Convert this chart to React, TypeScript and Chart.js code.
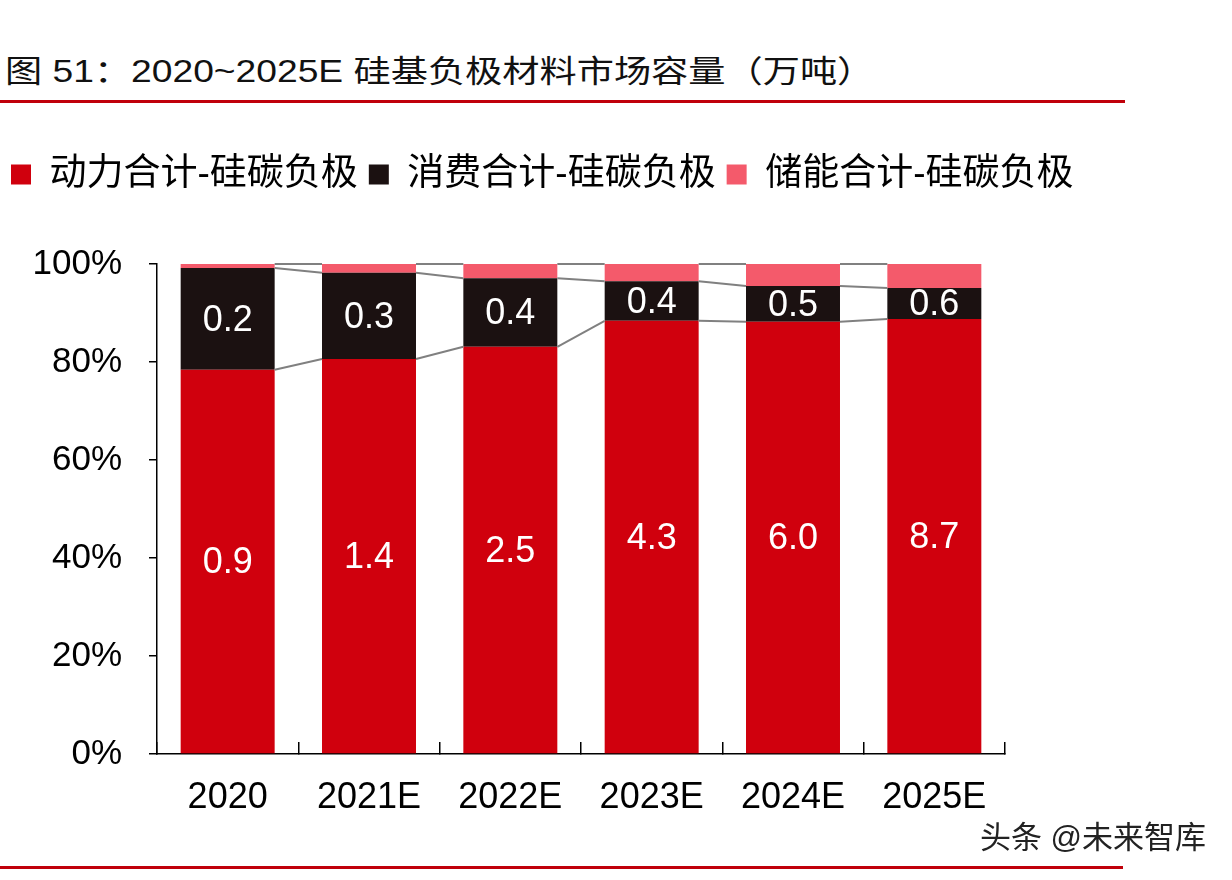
import React, { useEffect, useRef } from 'react';
import { Chart, registerables } from 'chart.js';

Chart.register(...registerables);

const categories = ['2020', '2021E', '2022E', '2023E', '2024E', '2025E'];
// shares of each bar (percent)
const powerShare = [78.4, 80.6, 83.1, 88.4, 88.2, 88.8];
const consumerShare = [20.8, 17.6, 14.0, 8.1, 7.3, 6.3];
const storageShare = [0.8, 1.8, 2.9, 3.5, 4.5, 4.9];
// value labels (万吨)
const powerLabels = ['0.9', '1.4', '2.5', '4.3', '6.0', '8.7'];
const consumerLabels = ['0.2', '0.3', '0.4', '0.4', '0.5', '0.6'];
const yTicks = [0, 20, 40, 60, 80, 100];

const seriesNames = ['动力合计-硅碳负极', '消费合计-硅碳负极', '储能合计-硅碳负极'];
const RED = '#D0000D';
const DARK = '#1B1111';
const PINK = '#F45A6B';
const FONT = '"Liberation Sans", "Noto Sans CJK SC", sans-serif';

export default function App() {
  const ref = useRef<HTMLCanvasElement>(null);

  useEffect(() => {
    document.body.style.margin = '0';
    const canvas = ref.current;
    if (!canvas) return;

    const legendHeightPlugin = {
      id: 'legendHeight',
      beforeInit(chart: any) {
        const legend = chart.legend;
        if (!legend) return;
        const orig = legend.fit;
        legend.fit = function () {
          orig.call(this);
          this.height = 119;
        };
      },
    };

    const connectorPlugin = {
      id: 'connectors',
      afterDatasetsDraw(chart: any) {
        const ctx = chart.ctx;
        ctx.save();
        ctx.strokeStyle = '#808080';
        ctx.lineWidth = 2;
        for (let d = 0; d < chart.data.datasets.length; d++) {
          const meta = chart.getDatasetMeta(d);
          for (let i = 0; i < meta.data.length - 1; i++) {
            const a: any = meta.data[i];
            const b: any = meta.data[i + 1];
            ctx.beginPath();
            ctx.moveTo(a.x + a.width / 2, a.y);
            ctx.lineTo(b.x - b.width / 2, b.y);
            ctx.stroke();
          }
        }
        ctx.restore();
      },
    };

    const labelPlugin = {
      id: 'valueLabels',
      afterDatasetsDraw(chart: any) {
        const ctx = chart.ctx;
        const sets = [powerLabels, consumerLabels];
        ctx.save();
        ctx.fillStyle = '#ffffff';
        ctx.font = `36px ${FONT}`;
        ctx.textAlign = 'center';
        ctx.textBaseline = 'middle';
        sets.forEach((labels, d) => {
          const meta = chart.getDatasetMeta(d);
          meta.data.forEach((bar: any, i: number) => {
            ctx.fillText(labels[i], bar.x, (bar.y + bar.base) / 2 + 2);
          });
        });
        ctx.restore();
      },
    };

    const chart = new Chart(canvas, {
      type: 'bar',
      data: {
        labels: categories,
        datasets: [
          { label: seriesNames[0], data: powerShare, backgroundColor: RED, borderWidth: 0 },
          { label: seriesNames[1], data: consumerShare, backgroundColor: DARK, borderWidth: 0 },
          { label: seriesNames[2], data: storageShare, backgroundColor: PINK, borderWidth: 0 },
        ],
      },
      options: {
        animation: false,
        responsive: false,
        maintainAspectRatio: false,
        layout: { padding: { top: 145, left: 0, right: 0, bottom: 0 } },
        datasets: { bar: { categoryPercentage: 0.665, barPercentage: 1 } } as any,
        plugins: {
          tooltip: { enabled: false },
          title: { display: false },
          legend: {
            position: 'top',
            align: 'start',
            labels: {
              boxWidth: 20,
              boxHeight: 20,
              padding: 11,
              color: '#000',
              font: { family: FONT, size: 37 },
            },
          },
        },
        scales: {
          x: {
            stacked: true,
            grid: {
              display: true,
              offset: true,
              drawOnChartArea: false,
              drawTicks: true,
              tickLength: -12,
              color: '#000',
              lineWidth: 1.5,
            },
            border: { display: true, color: '#000', width: 1.5 },
            ticks: { color: '#000', font: { family: FONT, size: 36 }, padding: 34 },
            afterFit: (s: any) => {
              s.height = 126;
            },
          },
          y: {
            stacked: true,
            min: 0,
            max: 100,
            afterBuildTicks: (s: any) => {
              s.ticks = yTicks.map((v) => ({ value: v }));
            },
            ticks: {
              color: '#000',
              font: { family: FONT, size: 35 },
              padding: 27,
              callback: (v: any) => v + '%',
            },
            grid: { drawOnChartArea: false, drawTicks: true, tickLength: 8, color: '#000', lineWidth: 1.5 },
            border: { display: true, color: '#000', width: 1.5 },
            afterFit: (s: any) => {
              s.width = 157;
            },
          },
          yRight: {
            type: 'linear',
            position: 'right',
            display: true,
            ticks: { display: false },
            grid: { display: false },
            border: { display: false },
            afterFit: (s: any) => {
              s.width = 227;
            },
          },
        },
      },
      plugins: [legendHeightPlugin, connectorPlugin, labelPlugin],
    } as any);

    return () => chart.destroy();
  }, []);

  return (
    <div style={{ position: 'relative', width: 1232, height: 880, background: '#fff', overflow: 'hidden' }}>
      <div
        style={{
          position: 'absolute',
          left: 5,
          top: 52,
          height: 40,
          lineHeight: '40px',
          fontSize: 31,
          fontFamily: FONT,
          color: '#111',
          whiteSpace: 'nowrap',
          transform: 'scaleX(1.2)',
          transformOrigin: 'left center',
        }}
      >
        图 51：2020~2025E 硅基负极材料市场容量（万吨）
      </div>
      <div style={{ position: 'absolute', left: 0, top: 100, width: 1125, height: 3, background: '#C0000A' }} />
      <canvas ref={ref} width={1232} height={880} style={{ position: 'absolute', left: 0, top: 0, display: 'block' }} />
      <div style={{ position: 'absolute', left: 0, top: 866, width: 1123, height: 3, background: '#C0000A' }} />
      <div
        style={{
          position: 'absolute',
          left: 980,
          top: 820,
          lineHeight: '36px',
          fontSize: 31,
          fontFamily: FONT,
          color: '#222',
          whiteSpace: 'nowrap',
          textShadow: '1px 1px 0 #fff, -1px -1px 0 #fff',
        }}
      >
        头条 @未来智库
      </div>
    </div>
  );
}
